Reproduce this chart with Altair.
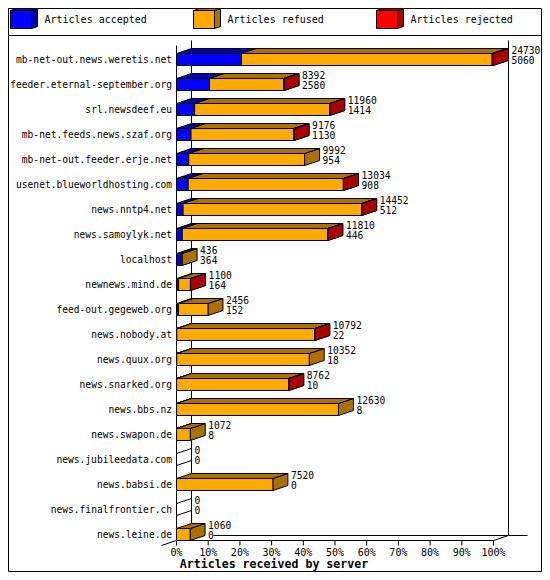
import altair as alt
import pandas as pd

servers = ["mb-net-out.news.weretis.net", "feeder.eternal-september.org", "srl.newsdeef.eu",
           "mb-net.feeds.news.szaf.org", "mb-net-out.feeder.erje.net", "usenet.blueworldhosting.com",
           "news.nntp4.net", "news.samoylyk.net", "localhost", "newnews.mind.de",
           "feed-out.gegeweb.org", "news.nobody.at", "news.quux.org", "news.snarked.org",
           "news.bbs.nz", "news.swapon.de", "news.jubileedata.com", "news.babsi.de",
           "news.finalfrontier.ch", "news.leine.de"]
totals = [24730, 8392, 11960, 9176, 9992, 13034, 14452, 11810, 436, 1100,
          2456, 10792, 10352, 8762, 12630, 1072, 0, 7520, 0, 1060]
accepted = [5060, 2580, 1414, 1130, 954, 908, 512, 446, 364, 164,
            152, 22, 18, 10, 8, 8, 0, 0, 0, 0]
rejected = [110, 16, 16, 16, 0, 16, 16, 16, 0, 16,
            0, 16, 0, 16, 0, 0, 0, 0, 0, 0]
series = ["Articles accepted", "Articles refused", "Articles rejected"]
front_colors = ["#0000ff", "#ffaa00", "#ff0000"]
shade_colors = ["#0000aa", "#aa7100", "#aa0000"]
x_ticks = [0, 10, 20, 30, 40, 50, 60, 70, 80, 90, 100]
x_title = "Articles received by server"
max_total = max(totals)

# Page-pixel geometry of the chart (the svg starts at page pixel 8,8)
X0, PX_PER_PCT = 176.5, 3.17
Y0, PX_PER_ROW = 59.5, 25.0
DX = 15 / PX_PER_PCT   # depth in x units
DY = 5 / PX_PER_ROW    # depth in y units
HALF = 6 / PX_PER_ROW  # half a bar's height
WALL = 100 + DX        # right wall, in x units


def ux(p):
    return (p - X0) / PX_PER_PCT


def uy(p):
    return (p - Y0) / PX_PER_ROW


FONT = "DejaVu Sans Mono"
xs = alt.Scale(domain=[0, 100], range=[X0 - 8, X0 - 8 + 100 * PX_PER_PCT], nice=False, zero=False)
ys = alt.Scale(domain=[0, 19], range=[Y0 - 8, Y0 - 8 + 19 * PX_PER_ROW], nice=False, zero=False)
X = lambda f="x": alt.X(f"{f}:Q", scale=xs, axis=None)
Y = lambda f="y": alt.Y(f"{f}:Q", scale=ys, axis=None)


def top_face(a, b, y0, h, d, pid):
    w = b - a
    if w >= d:
        pts = [(a, y0, y0), (a + d, y0, y0 - h), (b, y0, y0 - h), (b + d, y0 - h, y0 - h)]
    else:
        pts = [(a, y0, y0), (b, y0, y0 - h * w / d),
               (a + d, y0 - h * (a + d - b) / d, y0 - h), (b + d, y0 - h, y0 - h)]
    return [dict(pid=pid, x=p[0], y=p[1], y2=p[2]) for p in pts]


def side_face(b, y0, y1, h, d, pid):
    return [dict(pid=pid, x=b, y=y1, y2=y0), dict(pid=pid, x=b + d, y=y1 - h, y2=y0 - h)]


def box_layers(boxes, color_front, color_shade, d, h):
    """boxes: list of (a, b, y0, y1)."""
    shade, fronts = [], []
    for n, (a, b, y0, y1) in enumerate(boxes):
        shade += side_face(b, y0, y1, h, d, f"s{n}")
        shade += top_face(a, b, y0, h, d, f"t{n}")
        fronts.append(dict(x=a, x2=b, y=y0, y2=y1))
    out = []
    if shade:
        out.append(alt.Chart(pd.DataFrame(shade)).mark_area(
            orient="vertical", color=color_shade, stroke="black", strokeWidth=1, opacity=1
        ).encode(x=X(), y=Y(), y2="y2:Q", detail="pid:N"))
        out.append(alt.Chart(pd.DataFrame(fronts)).mark_rect(
            color=color_front, stroke="black", strokeWidth=1, opacity=1
        ).encode(x=X(), x2="x2:Q", y=Y(), y2="y2:Q"))
    return out


def lines_layer(segs, width=1):
    rows = []
    for n, pts in enumerate(segs):
        for k, (x, y) in enumerate(pts):
            rows.append(dict(pid=n, k=k, x=x, y=y))
    return alt.Chart(pd.DataFrame(rows)).mark_line(
        color="black", strokeWidth=width
    ).encode(x=X(), y=Y(), detail="pid:N", order="k:Q")


# Frame, header rule and chart walls
fx0, fx1, fy0, fy1 = ux(8.5), ux(541.5), uy(8.5), uy(571.5)
frame = [
    [(fx0, fy0), (fx1, fy0)], [(fx1, fy0), (fx1, fy1)],
    [(fx1, fy1), (fx0, fy1)], [(fx0, fy1), (fx0, fy0)],
    [(fx0, uy(35.5)), (fx1, uy(35.5))],
    [(0, uy(45.5)), (0, uy(540.5))],
    [(DX, uy(40.5)), (DX, uy(535.5))],
    [(WALL, uy(40.5)), (WALL, uy(535.5))],
    [(ux(213.5), uy(535.5)), (WALL + 19 / PX_PER_PCT, uy(535.5))],
    [(ux(161.5), uy(545.5)), (DX, uy(535.5))],
    [(0, uy(540.5)), (100, uy(540.5))],
    [(100, uy(540.5)), (WALL, uy(535.5))],
]
for t in x_ticks:
    frame.append([(t, uy(540.5)), (t, uy(545.5))])
layers = [lines_layer(frame)]

# Zero rows: only the two edges of an empty box
zero_segs = []
for r, t in enumerate(totals):
    if t == 0:
        zero_segs.append([(0, r - HALF), (DX, r - HALF - DY)])
        zero_segs.append([(0, r + HALF), (DX, r + HALF - DY)])
layers.append(lines_layer(zero_segs))

# Stacked boxes, left to right
boxes = [[], [], []]
for r, (t, ac, rj) in enumerate(zip(totals, accepted, rejected)):
    if t == 0:
        continue
    parts = [ac, t - ac - rj, rj]
    pos = 0.0
    for i, v in enumerate(parts):
        if v > 0:
            w = v / max_total * 100
            boxes[i].append((pos, pos + w, r - HALF, r + HALF))
            pos += w
# each bar's segments are painted in series order; row order does not overlap
for i in range(3):
    layers += box_layers(boxes[i], front_colors[i], shade_colors[i], DX, DY)

# Legend swatches
legend_x = [10.5, 193.5, 376.5]
legend_text_x = [44.5, 227.5, 410.5]
for i in range(3):
    a, b = ux(legend_x[i]), ux(legend_x[i] + 21)
    layers += box_layers([(a, b, uy(10.5), uy(28.5))], front_colors[i], shade_colors[i],
                         6 / PX_PER_PCT, 2 / PX_PER_ROW)
legend_df = pd.DataFrame(dict(x=[ux(p) for p in legend_text_x], y=[uy(20)] * 3, t=series))
layers.append(alt.Chart(legend_df).mark_text(align="left", baseline="middle", font=FONT, fontSize=10,
                                             color="black").encode(x=X(), y=Y(), text="t:N"))

# Row labels and values
rows_df = pd.DataFrame(dict(
    y=list(range(len(servers))), server=servers, total=totals, acc=accepted,
    zero=[0] * len(servers),
    x=[t / max_total * 100 + DX for t in totals]))
layers.append(alt.Chart(rows_df).mark_text(align="right", baseline="middle", font=FONT, fontSize=9.6,
                                           dx=-4.5, color="black").encode(x=X("zero"), y=Y(), text="server:N"))
layers.append(alt.Chart(rows_df).mark_text(align="left", baseline="middle", font=FONT, fontSize=9.6,
                                           dx=3, dy=-9, color="black").encode(x=X(), y=Y(), text="total:Q"))
layers.append(alt.Chart(rows_df).mark_text(align="left", baseline="middle", font=FONT, fontSize=9.6,
                                           dx=3, dy=1.5, color="black").encode(x=X(), y=Y(), text="acc:Q"))

# X tick labels and title
tick_df = pd.DataFrame(dict(x=x_ticks, y=[uy(552.5)] * len(x_ticks), t=[f"{v}%" for v in x_ticks]))
layers.append(alt.Chart(tick_df).mark_text(align="center", baseline="middle", font=FONT, fontSize=10,
                                           color="black").encode(x=X(), y=Y(), text="t:N"))
title_df = pd.DataFrame(dict(x=[ux(274)], y=[uy(565)], t=[x_title]))
layers.append(alt.Chart(title_df).mark_text(align="center", baseline="middle", font=FONT, fontSize=11.6,
                                            fontWeight="bold", color="black").encode(x=X(), y=Y(), text="t:N"))

chart = alt.layer(*layers).properties(
    width=534, height=564, padding=0, autosize=alt.AutoSizeParams(type="none"), background="white"
).configure_view(stroke=None)

chart.save("out.html", embed_options={"renderer": "svg", "actions": False})
